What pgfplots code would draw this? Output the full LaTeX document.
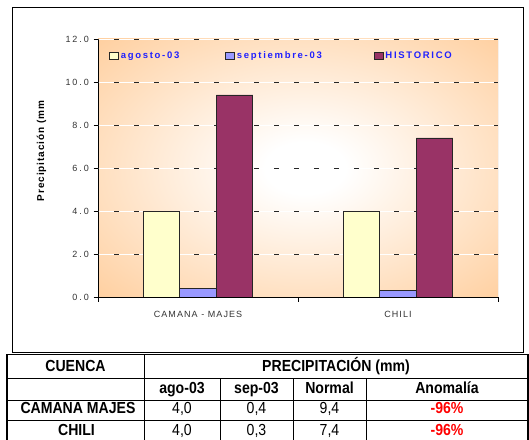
\documentclass[border=0pt]{standalone}
\usepackage{fontspec}
\setmainfont{Liberation Sans}
\newfontfamily\ytickfont[LetterSpace=22]{Liberation Sans}
\newfontfamily\xtickfont[LetterSpace=12]{Liberation Sans}
\newfontfamily\labfont[LetterSpace=9]{Liberation Sans}
\newfontfamily\legfont[LetterSpace=18]{Liberation Sans}
\newfontfamily\narrow[FakeStretch=0.88]{Liberation Sans}
\usepackage{pgfplots}
\pgfplotsset{compat=1.18}

\definecolor{agocol}{HTML}{FFFFCC}
\definecolor{sepcol}{HTML}{9999FF}
\definecolor{histcol}{HTML}{993366}
\definecolor{peach}{HTML}{FFCC99}
\definecolor{legblue}{HTML}{2020FF}
\pgfdeclareradialshading{plotbg}{\pgfpoint{1bp}{0bp}}{color(0bp)=(white); color(5bp)=(white); color(38bp)=(peach); color(50bp)=(peach)}
\pgfplotsset{legbox/.style={legend image code/.code={\draw[##1, line width=0.6pt] (0pt,-3.5pt) rectangle (9pt,3.5pt);}}}

\begin{document}
\begin{tikzpicture}
  \useasboundingbox (0pt,0pt) rectangle (529pt,439pt);
  % chart frame
  \draw[black, line width=0.9pt, fill=white] (12pt,432pt) rectangle (523pt,87pt);

  \begin{axis}[
    at={(98pt,142pt)}, anchor=south west,
    scale only axis, width=400pt, height=258pt,
    xmin=-0.5, xmax=1.5, ymin=0, ymax=12,
    axis background/.style={shade, shading=plotbg},
    axis x line*=bottom, axis y line*=left,
    axis line style={black, line width=0.8pt},
    tick align=outside, major tick length=4.5pt,
    tick style={black, line width=0.8pt},
    ybar=0pt, bar width=36.5pt,
    xtick={-0.5,0.5,1.5}, xticklabels={},
    extra x ticks={0,1}, extra x tick labels={CAMANA - MAJES, CHILI},
    extra x tick style={major tick length=0pt},
    xticklabel style={font=\xtickfont\fontsize{9}{10}\selectfont, text=black!80, yshift=-11pt},
    ytick={0,2,...,12},
    yticklabel style={font=\ytickfont\fontsize{9}{10}\selectfont, text=black!80, xshift=-1pt,
      /pgf/number format/fixed, /pgf/number format/fixed zerofill,
      /pgf/number format/precision=1, /pgf/number format/assume math mode=true},
    legend style={at={(0.0275,0.934)}, anchor=west, draw=none, fill=none,
      legend columns=3, inner sep=0pt,
      font=\legfont\bfseries\fontsize{9.5}{11}\selectfont, text=legblue,
      /tikz/column 2/.style={column sep=44pt},
      /tikz/column 4/.style={column sep=50pt}},
  ]
    % grid lines: white line with dark dashes
    \pgfplotsinvokeforeach{2,4,6,8,10,12}{
      \draw[white, line width=0.9pt] (axis cs:-0.5,#1) -- (axis cs:1.5,#1);
      \draw[black!85, line width=0.9pt, dash pattern=on 5pt off 15pt, dash phase=4pt]
        (axis cs:-0.5,#1) -- (axis cs:1.5,#1);
    }
    \draw[gray!55, line width=1.6pt] ([xshift=1pt]axis cs:1.5,0) -- ([xshift=1pt]axis cs:1.5,12);

    \addplot[fill=agocol, draw=black!85, line width=0.7pt, legbox]
      coordinates {(0,4.0) (1,4.0)};
    \addlegendentry{agosto-03}
    \addplot[fill=sepcol, draw=black!85, line width=0.7pt, legbox]
      coordinates {(0,0.4) (1,0.3)};
    \addlegendentry{septiembre-03}
    \addplot[fill=histcol, draw=black!85, line width=0.7pt, legbox]
      coordinates {(0,9.4) (1,7.4)};
    \addlegendentry{HISTORICO}
  \end{axis}

  \node[rotate=90, font=\labfont\bfseries\fontsize{10}{12}\selectfont] at (41.5pt,288pt) {Precipitación (mm};

  % table
  \begin{scope}[x=1pt, y=1pt,
      cell/.style={font=\narrow\bfseries\fontsize{16}{18}\selectfont, text height=0.716em, text depth=0pt, inner sep=0pt},
      num/.style={font=\narrow\fontsize{16}{18}\selectfont, text height=0.716em, text depth=0pt, inner sep=0pt}]
    \draw[line width=0.8pt] (7,61) -- (528,61);
    \draw[line width=0.8pt] (7,38.5) -- (528,38.5);
    \draw[line width=0.8pt] (7,19) -- (528,19);
    \draw[line width=0.8pt] (144,84.5) -- (144,-6);
    \draw[line width=0.8pt] (220,61) -- (220,-6);
    \draw[line width=0.8pt] (293,61) -- (293,-6);
    \draw[line width=0.8pt] (366,61) -- (366,-6);
    \draw[line width=1.6pt] (7,-6) rectangle (528,84.5);

    \node[cell] at (75.5,71.5) {CUENCA};
    \node[cell] at (336,71.5) {PRECIPITACIÓN (mm)};
    \node[cell] at (182,49.5) {ago-03};
    \node[cell] at (256.5,49.5) {sep-03};
    \node[cell] at (329.5,49.5) {Normal};
    \node[cell] at (447,49.5) {Anomalía};
    \node[cell] at (78,29) {CAMANA MAJES};
    \node[num] at (182,29) {4,0};
    \node[num] at (256.5,29) {0,4};
    \node[num] at (329.5,29) {9,4};
    \node[cell, text=red] at (447,29) {-96\%};
    \node[cell] at (76.5,7.5) {CHILI};
    \node[num] at (182,7.5) {4,0};
    \node[num] at (256.5,7.5) {0,3};
    \node[num] at (329.5,7.5) {7,4};
    \node[cell, text=red] at (447,7.5) {-96\%};
  \end{scope}
\end{tikzpicture}
\end{document}
